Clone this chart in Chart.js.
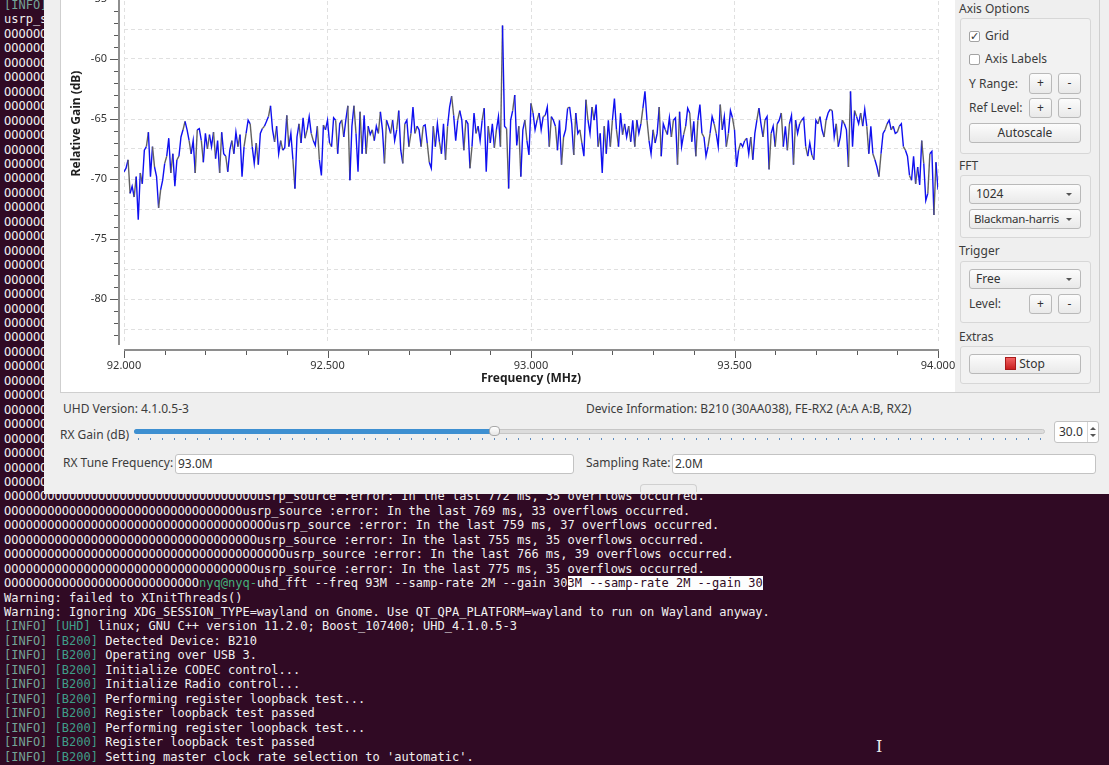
<!DOCTYPE html>
<html>
<head>
<meta charset="utf-8">
<title>uhd_fft</title>
<script src="https://cdn.jsdelivr.net/npm/chart.js@4.4.1/dist/chart.umd.min.js"></script>
<style>
  html, body { margin: 0; padding: 0; }
  body { width: 1109px; height: 765px; overflow: hidden; position: relative; background: #300a24; font-family: "Noto Sans", sans-serif; }
  #term { position: absolute; left: 4px; top: -2px; margin: 0; color: #f0f0f0; font: 12px/14.46px "DejaVu Sans Mono", monospace; white-space: pre; }
  #term .info { color: #74a497; }
  #term .dev { color: #3f9e89; }
  #term .host { color: #45b07a; }
  #term .sel { background: #fdfdfd; color: #300a24; }
  #win { position: absolute; left: 44px; top: -30px; width: 1080px; height: 524px; background: #efefef; }
  #frame { position: absolute; left: 60px; top: -20px; width: 1040px; height: 413px; box-sizing: border-box; border: 1px solid #cfcfcf; background: #efefef; }
  #plotbg { position: absolute; left: 61px; top: -20px; width: 894px; height: 412px; background: #fff; }
  #plot { position: absolute; left: 60px; top: -99px; width: 895px; height: 492px; }
  .t { position: absolute; font-size: 12px; line-height: 16px; color: #3c3c3c; white-space: nowrap; }
  .grp { position: absolute; left: 960px; width: 131px; box-sizing: border-box; border: 1px solid #d7d7d7; border-radius: 3px; background: #f2f2f2; }
  .btn { position: absolute; box-sizing: border-box; height: 20px; border: 1px solid #b9b9b9; border-radius: 3px; background: linear-gradient(#fcfcfc, #e9e9e9); text-align: center; font-size: 12px; line-height: 18px; color: #333; white-space: nowrap; }
  .combo { text-align: left; padding-left: 6px; }
  .combo::after { content: ""; position: absolute; right: 8px; top: 8px; border-left: 3px solid transparent; border-right: 3px solid transparent; border-top: 3px solid #555; }
  .narrow { font-size: 11.5px; letter-spacing: -0.2px; padding-left: 4px; }
  .chk { position: absolute; left: 969px; width: 11px; height: 11px; box-sizing: border-box; border: 1px solid #a3a3a3; border-radius: 2px; background: #fff; font: 11px/9px "DejaVu Sans", sans-serif; color: #333; text-align: center; }
  .edit { position: absolute; top: 454px; height: 20px; box-sizing: border-box; background: #fff; border: 1px solid #c3c3c3; border-radius: 3px; padding-left: 2px; font-size: 12px; line-height: 18px; color: #333; }
  #stopIcon { display: inline-block; width: 11px; height: 13px; margin-right: 3px; vertical-align: -2px; box-sizing: border-box; border: 1px solid #a81a1a; background: linear-gradient(#f06060, #c91f1f); }
</style>
</head>
<body>
<pre id="term"></pre>

<div id="win"></div>
<div id="frame"></div>
<div id="plotbg"></div>
<div id="plot"><canvas id="fft"></canvas></div>

<!-- right control panel -->
<div class="t" style="left:959px;top:1px">Axis Options</div>
<div class="grp" style="top:18px;height:136px"></div>
<div class="chk" style="top:31px">✓</div>
<div class="t" style="left:985px;top:28px">Grid</div>
<div class="chk" style="top:54px"></div>
<div class="t" style="left:985px;top:51px">Axis Labels</div>
<div class="t" style="left:969px;top:76px">Y Range:</div>
<div class="btn" style="left:1029px;top:73px;width:23px;height:21px">+</div>
<div class="btn" style="left:1058px;top:73px;width:23px;height:21px">-</div>
<div class="t" style="left:969px;top:100px">Ref Level:</div>
<div class="btn" style="left:1029px;top:98px;width:23px">+</div>
<div class="btn" style="left:1058px;top:98px;width:23px">-</div>
<div class="btn" style="left:969px;top:123px;width:112px">Autoscale</div>

<div class="t" style="left:959px;top:158px">FFT</div>
<div class="grp" style="top:175px;height:63px"></div>
<div class="btn combo" style="left:969px;top:184px;width:112px">1024</div>
<div class="btn combo narrow" style="left:969px;top:209px;width:112px">Blackman-harris</div>

<div class="t" style="left:959px;top:243px">Trigger</div>
<div class="grp" style="top:261px;height:62px"></div>
<div class="btn combo" style="left:969px;top:269px;width:112px">Free</div>
<div class="t" style="left:969px;top:296px">Level:</div>
<div class="btn" style="left:1029px;top:294px;width:23px">+</div>
<div class="btn" style="left:1058px;top:294px;width:23px">-</div>

<div class="t" style="left:959px;top:329px">Extras</div>
<div class="grp" style="top:346px;height:38px"></div>
<div class="btn" style="left:969px;top:354px;width:112px"><span id="stopIcon"></span>Stop</div>

<!-- lower controls -->
<div class="t" style="left:63px;top:401px">UHD Version: 4.1.0.5-3</div>
<div class="t" style="left:586px;top:401px">Device Information: B210 (30AA038), FE-RX2 (A:A A:B, RX2)</div>
<div class="t" style="left:60px;top:427px">RX Gain (dB)</div>
<div style="position:absolute;left:134px;top:429px;width:911px;height:5px;box-sizing:border-box;border:1px solid #c6c6c6;border-radius:3px;background:#dcdcdc"></div>
<div style="position:absolute;left:134px;top:429px;width:362px;height:5px;border-radius:3px;background:#3d8fd1"></div>
<div style="position:absolute;left:489px;top:426px;width:11px;height:10px;box-sizing:border-box;border:1px solid #a8a8a8;border-radius:4px;background:linear-gradient(#ffffff,#e6e6e6)"></div>
<div style="position:absolute;left:138px;top:438px;width:905px;height:2px;background:repeating-linear-gradient(to right,#5d8cbf 0,#5d8cbf 1px,transparent 1px,transparent 11.87px)"></div>
<div class="edit" style="left:1054px;top:421px;width:45px;height:22px;line-height:20px;padding-left:4px">30.0</div>
<div style="position:absolute;left:1087px;top:422px;width:1px;height:20px;background:#d6d6d6"></div>
<div style="position:absolute;left:1090px;top:427px;border-left:3px solid transparent;border-right:3px solid transparent;border-bottom:3px solid #555"></div>
<div style="position:absolute;left:1090px;top:434px;border-left:3px solid transparent;border-right:3px solid transparent;border-top:3px solid #555"></div>
<div class="t" style="left:63px;top:455px">RX Tune Frequency:</div>
<div class="edit" style="left:175px;width:399px">93.0M</div>
<div class="t" style="left:586px;top:455px">Sampling Rate:</div>
<div class="edit" style="left:672px;width:424px">2.0M</div>
<div style="position:absolute;left:640px;top:484px;width:57px;height:8px;box-sizing:border-box;border:1px solid #d0d0d0;border-bottom:none;border-radius:4px 4px 0 0"></div>

<div style="position:absolute;left:876px;top:737px;color:#eeeeee;font:16px 'DejaVu Serif',serif">I</div>

<script>
// ---- spectrum data ----
const freqStartMHz = 92.0;      // first FFT bin
const binStepMHz = 0.005;       // bin spacing
const gainDb = [
  -69.4,-69.1,-68.4,-71.2,-70.6,-71.5,-69.8,-73.4,-69.5,-70.4,
  -67.6,-67.3,-66.1,-69.8,-67.3,-69.0,-69.8,-72.4,-70.9,-70.1,
  -68.7,-68.1,-66.6,-69.5,-67.9,-70.6,-68.4,-68.1,-66.5,-65.9,
  -65.2,-65.9,-66.8,-67.9,-66.8,-69.5,-65.9,-65.8,-66.8,-68.6,
  -66.2,-67.5,-66.3,-67.3,-66.1,-68.3,-66.8,-69.5,-66.1,-67.9,
  -68.1,-69.4,-67.6,-66.8,-67.9,-66.1,-67.3,-66.3,-69.8,-67.3,
  -66.2,-65.1,-65.4,-67.3,-68.7,-67.0,-68.8,-66.2,-65.8,-65.6,
  -65.2,-64.8,-63.9,-65.9,-66.9,-65.6,-67.9,-66.8,-67.6,-67.4,
  -64.7,-67.3,-66.2,-68.4,-70.8,-66.5,-65.4,-67.0,-64.9,-66.6,
  -65.9,-64.8,-66.2,-66.8,-67.2,-65.6,-68.4,-69.7,-65.5,-65.9,
  -65.1,-67.0,-67.3,-64.9,-65.1,-67.9,-65.4,-65.1,-66.5,-65.1,
  -63.9,-70.1,-65.6,-63.9,-66.2,-69.4,-64.4,-67.9,-64.7,-67.9,
  -65.6,-66.3,-65.9,-66.8,-65.6,-66.2,-64.4,-65.9,-68.7,-65.1,
  -65.6,-66.2,-65.1,-66.8,-65.9,
  -64.3,-67.6,-68.7,-65.4,-65.1,-67.3,-66.2,-64.0,-66.2,-65.6,
  -65.9,-67.3,-65.6,-65.5,-67.0,-68.6,-69.1,-65.6,-67.3,-65.4,
  -66.9,-67.9,-65.4,-68.4,-65.6,-64.0,-63.1,-64.7,-66.8,-65.1,
  -64.3,-65.1,-67.6,-65.1,-65.4,-69.1,-67.3,-64.5,-66.2,-65.6,
  -66.8,-65.1,-64.1,-69.4,-65.6,-67.0,-65.4,-67.4,-65.9,-64.8,
  -67.3,-57.2,-65.6,-65.8,-70.8,-65.1,-64.3,-63.0,-67.2,-65.6,
  -69.8,-65.9,-65.1,-66.8,-68.0,-63.7,-64.5,-65.9,-65.1,-64.5,
  -65.9,-64.8,-64.7,-64.0,-67.3,-64.8,-65.1,-65.6,-67.6,-65.1,
  -68.8,-66.5,-65.9,-64.1,-64.0,-65.4,-68.0,-64.5,-66.2,-65.9,
  -67.0,-68.1,-63.4,-65.1,-66.2,-64.0,-65.1,-63.8,-67.3,-66.2,
  -69.5,-65.6,-67.9,-65.1,-67.3,-65.1,-63.3,-65.9,-67.3,-64.5,
  -66.3,-65.4,-66.5,-65.6,-66.9,-65.1,-67.3,-65.1,-66.2,-65.4,
  -64.1,-62.7,-65.1,-66.8,-67.9,-65.9,-67.0,-66.2,-64.0,-68.1,
  -65.4,-65.9,-66.3,-64.9,-66.5,-65.1,
  -64.9,-68.8,-64.4,-67.3,-66.3,-65.6,-64.1,-64.5,-66.9,-65.2,
  -68.1,-65.1,-63.8,-66.2,-66.5,-68.1,-67.3,-66.2,-64.8,-65.4,
  -66.2,-67.3,-63.8,-65.9,-64.8,-67.3,-66.2,-64.3,-64.9,-65.9,
  -69.0,-67.6,-67.0,-67.3,-66.8,-66.6,-67.9,-66.5,-68.4,-66.2,
  -65.1,-64.1,-65.4,-66.5,-65.1,-64.8,-69.2,-66.2,-65.6,-67.3,
  -65.4,-65.1,-64.5,-67.3,-65.6,-67.6,-65.4,-64.7,-68.8,-65.1,
  -66.2,-65.4,-65.1,-64.9,-67.3,-68.1,-67.0,-68.0,-68.4,-65.1,
  -65.4,-64.8,-65.9,-66.5,-65.1,-64.5,-64.2,-64.3,-66.5,-65.4,
  -67.3,-66.5,-65.1,-65.4,-65.9,-69.0,-62.7,-67.3,-64.3,-64.8,
  -65.4,-64.5,-65.6,-64.2,-65.6,-67.9,-65.6,-67.9,-68.4,-69.0,
  -69.8,-67.9,-66.2,-65.9,-65.4,-65.1,-65.9,-65.6,-66.2,-66.1,
  -65.6,-65.4,-67.3,-67.6,-68.1,-69.7,-70.1,-68.1,-70.4,-69.0,
  -70.5,-66.8,-68.7,-71.8,-71.2,-67.9,-67.7,-73.0,-68.6,-70.9
];

// axis ticks
const freqTickLabels = ['92.000', '92.500', '93.000', '93.500', '94.000'];
const gainTickLabels = ['-80', '-75', '-70', '-65', '-60', '-55', '-50'];

const traceBlue = '#1010f0';
const traceGray = '#616161';
const gridColor = '#e0e0e0';
const none = 'rgba(0,0,0,0)';

// ---- terminal behind the window ----
function buildTerminal(){
  const info = '<span class="info">[INFO]</span> ';
  const dev = name => '<span class="dev">[' + name + ']</span> ';
  const rows = [];
  rows.push(info + dev('B200') + 'Asking for clock rate 16.000000 MHz...');
  rows.push('usrp_source :error: In the last 781 ms, 36 overflows occurred.');
  for(let i = 0; i < 32; i++) rows.push('O'.repeat(60));
  const overflows = [[772,35],[769,33],[759,37],[755,35],[766,39],[775,35]];
  overflows.forEach(([ms, n]) => {
    rows.push('O'.repeat(n) + 'usrp_source :error: In the last ' + ms + ' ms, ' + n + ' overflows occurred.');
  });
  rows.push('O'.repeat(27) + '<span class="host">nyq@nyq-</span>uhd_fft --freq 93M --samp-rate 2M --gain 30' +
            '<span class="sel">3M --samp-rate 2M --gain 30</span>');
  rows.push('Warning: failed to XInitThreads()');
  rows.push('Warning: Ignoring XDG_SESSION_TYPE=wayland on Gnome. Use QT_QPA_PLATFORM=wayland to run on Wayland anyway.');
  rows.push(info + dev('UHD') + 'linux; GNU C++ version 11.2.0; Boost_107400; UHD_4.1.0.5-3');
  ['Detected Device: B210',
   'Operating over USB 3.',
   'Initialize CODEC control...',
   'Initialize Radio control...',
   'Performing register loopback test...',
   'Register loopback test passed',
   'Performing register loopback test...',
   'Register loopback test passed',
   "Setting master clock rate selection to 'automatic'."
  ].forEach(msg => rows.push(info + dev('B200') + msg));
  document.getElementById('term').innerHTML = rows.join('\n');
}

const onStep = (v, step) => Math.abs(v / step - Math.round(v / step)) < 1e-6;

// Qwt-style axes: separate axis lines with major/minor tick marks
const qwtAxes = {
  id: 'qwtAxes',
  afterDraw(chart){
    const {ctx, chartArea: a, scales: {x, y}} = chart;
    const axisX = a.left - 5;
    const axisY = a.bottom + 6;
    ctx.save();
    ctx.strokeStyle = '#8e8e8e';
    ctx.lineWidth = 2;
    ctx.beginPath();
    ctx.moveTo(axisX, a.top);
    ctx.lineTo(axisX, a.bottom + 1);
    ctx.stroke();
    ctx.beginPath();
    ctx.moveTo(x.getPixelForValue(x.min), axisY);
    ctx.lineTo(x.getPixelForValue(x.max) + 1, axisY);
    ctx.stroke();

    ctx.strokeStyle = '#5a5a5a';
    ctx.lineWidth = 1;
    y.ticks.forEach(t => {
      if(!onStep(t.value, 1)) return;
      const len = onStep(t.value, 5) ? 8 : 4;
      const py = Math.round(y.getPixelForValue(t.value)) + 0.5;
      ctx.beginPath();
      ctx.moveTo(axisX - 1 - len, py);
      ctx.lineTo(axisX - 1, py);
      ctx.stroke();
    });
    x.ticks.forEach(t => {
      const len = onStep(t.value, 0.5) ? 7 : 4;
      const px = Math.round(x.getPixelForValue(t.value)) + 0.5;
      ctx.beginPath();
      ctx.moveTo(px, axisY + 1);
      ctx.lineTo(px, axisY + 1 + len);
      ctx.stroke();
    });
    ctx.restore();
  }
};

function drawSpectrum(){
  const points = gainDb.map((g, i) => ({x: freqStartMHz + i * binStepMHz, y: g}));
  Chart.defaults.font.family = '"Noto Sans", sans-serif';
  new Chart(document.getElementById('fft'), {
    type: 'line',
    data: {
      datasets: [{
        data: points,
        borderColor: traceBlue,
        borderWidth: 1.4,
        pointRadius: 0,
        tension: 0,
        segment: { borderColor: c => (c.p0DataIndex % 3 === 2 ? traceGray : traceBlue) }
      }]
    },
    options: {
      responsive: true,
      maintainAspectRatio: false,
      animation: false,
      layout: { padding: { top: 2, right: 17, left: 0, bottom: 0 } },
      plugins: { legend: { display: false }, tooltip: { enabled: false } },
      scales: {
        x: {
          type: 'linear',
          min: 92,
          max: 94,
          afterFit(s){ s.height = 49; s.paddingLeft = 0; s.paddingRight = 0; },
          ticks: {
            stepSize: 0.1,
            autoSkip: false,
            maxRotation: 0,
            padding: 15,
            color: '#333',
            font: { size: 11 },
            callback: v => { const lab = Number(v).toFixed(3); return freqTickLabels.includes(lab) ? lab : ''; }
          },
          grid: { drawTicks: false, color: c => (c.tick && onStep(c.tick.value, 0.5) ? gridColor : none) },
          border: { display: false, dash: [4, 3] },
          title: { display: true, text: 'Frequency (MHz)', color: '#1e1e1e', font: { size: 12, weight: 'bold' }, padding: { top: 0, bottom: 7 } }
        },
        y: {
          min: -83.75,
          max: -47,
          afterFit(s){ s.width = 64; s.paddingTop = 0; s.paddingBottom = 0; },
          ticks: {
            stepSize: 0.5,
            autoSkip: false,
            padding: 17,
            color: '#333',
            font: { size: 11 },
            callback: v => { const lab = String(Math.round(v * 10) / 10); return gainTickLabels.includes(lab) ? lab : ''; }
          },
          grid: { drawTicks: false, color: c => (c.tick && onStep(c.tick.value, 2.5) ? gridColor : none) },
          border: { display: false, dash: [4, 3] },
          title: { display: true, text: 'Relative Gain (dB)', color: '#1e1e1e', font: { size: 12, weight: 'bold' }, padding: { top: 9 } }
        }
      }
    },
    plugins: [qwtAxes]
  });
}

buildTerminal();
drawSpectrum();
</script>
</body>
</html>
